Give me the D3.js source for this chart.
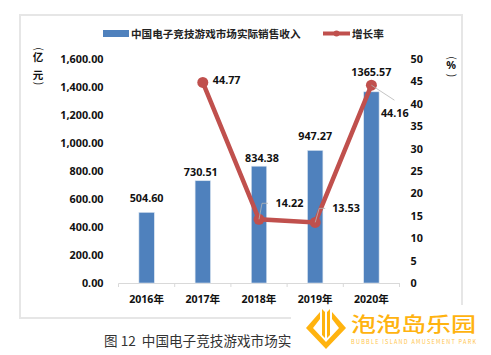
<!DOCTYPE html>
<html><head><meta charset="utf-8">
<script src="https://cdn.jsdelivr.net/npm/d3@7/dist/d3.min.js"></script>
<style>html,body{margin:0;padding:0;background:#fff}svg{display:block}
text{font-family:"Noto Sans CJK SC","Noto Sans",sans-serif}
.n{font-family:"Noto Sans","Noto Sans CJK SC",sans-serif;font-weight:700;font-size:10.8px;fill:#111}
</style></head><body><svg id="c" width="491" height="355"></svg>
<script>
const categories=["2016年","2017年","2018年","2019年","2020年"];
const revenue=[504.60,730.51,834.38,947.27,1365.57];
const growth=[null,44.77,14.22,13.53,44.16];
const leftTicks=[0,200,400,600,800,1000,1200,1400,1600];
const rightTicks=[0,5,10,15,20,25,30,35,40,45,50];
const barName="中国电子竞技游戏市场实际销售收入";
const lineName="增长率";
const caption="图 12  中国电子竞技游戏市场实";
const brand="泡泡岛乐园";
const brandEn="BUBBLE ISLAND AMUSEMENT PARK";
const svg=d3.select("#c");
svg.append("rect").attr("x",20).attr("y",15).attr("width",442).attr("height",303).attr("fill","#fff").attr("stroke","#e6e6e6").attr("stroke-width",2);
const x=d3.scaleBand().domain(categories).range([118.5,399.5]);
const y=d3.scaleLinear().domain([0,1600]).range([283,59]);
const y2=d3.scaleLinear().domain([0,50]).range([283,59]);
const cx=d=>x(d)+x.bandwidth()/2;
const ax=svg.append("g").attr("transform","translate(0,283)").call(d3.axisBottom(x).tickSize(0).tickPadding(12));
ax.select(".domain").attr("stroke","#d9d9d9").attr("d","M118.5,4V0.5H399.5V4");
categories.forEach((d,i)=>ax.append("line").attr("x1",x(d)+x.step()).attr("x2",x(d)+x.step()).attr("y1",0).attr("y2",4).attr("stroke","#d9d9d9"));
ax.selectAll("text").attr("class","n").style("font-size","10.6px").attr("fill","#111");
const fmt=d3.format(",.2f");
const la=svg.append("g").attr("transform","translate(103.5,0)").call(d3.axisLeft(y).tickValues(leftTicks).tickFormat(fmt).tickSize(0).tickPadding(0));
la.select(".domain").remove();
la.selectAll("text").attr("class","n");
const ra=svg.append("g").attr("transform","translate(410.5,0)").call(d3.axisRight(y2).tickValues(rightTicks).tickSize(0).tickPadding(0));
ra.select(".domain").remove();
ra.selectAll("text").attr("class","n");
svg.append("g").selectAll("rect").data(categories).join("rect")
 .attr("x",d=>cx(d)-7.7).attr("width",15.4).attr("y",(d,i)=>y(revenue[i])).attr("height",(d,i)=>283-y(revenue[i]))
 .attr("fill","#4f81bd").attr("stroke","#dbe5f1").attr("stroke-width",.6);
const pts=categories.map((d,i)=>({d,v:growth[i]})).filter(p=>p.v!=null);
const barOff=[[0,-14],[-2,-8],[3,-8],[0,-14],[0,-19]];
svg.append("g").selectAll("text").data(categories).join("text").attr("class","n").attr("text-anchor","middle")
 .attr("x",(d,i)=>cx(d)+barOff[i][0]).attr("y",(d,i)=>y(revenue[i])+barOff[i][1]+3.5).text((d,i)=>revenue[i].toFixed(2));
const line=d3.line().x(p=>cx(p.d)).y(p=>y2(p.v));
const lead=[[2,[[0,0],[3,-16],[9,-16]]],[3,[[0,0],[4,-14],[10,-14]]],[4,[[0,0],[23,15]]]];
svg.append("path").attr("d",line(pts)).attr("fill","none").attr("stroke","#c0504d").attr("stroke-width",4.5);
svg.append("g").selectAll("circle").data(pts).join("circle").attr("cx",p=>cx(p.d)).attr("cy",p=>y2(p.v)).attr("r",5.5).attr("fill","#c0504d");
lead.forEach(([i,ps])=>svg.append("path").attr("fill","none").attr("stroke","#b5b5b5").attr("stroke-width",.8)
 .attr("d",d3.line()(ps.map(q=>[cx(categories[i])+q[0],y2(growth[i])+q[1]]))));
const lineOff={1:[10,-2],2:[16.6,-16],3:[17,-13.4],4:[9.5,28]};
pts.forEach((p)=>{const i=categories.indexOf(p.d);
 svg.append("text").attr("class","n").attr("x",cx(p.d)+lineOff[i][0]).attr("y",y2(p.v)+lineOff[i][1]+3.5).text(p.v.toFixed(2));});
svg.append("rect").attr("x",103).attr("y",30).attr("width",26).attr("height",7).attr("fill","#4f81bd");
svg.append("text").attr("x",131).attr("y",37.5).attr("font-size","10.6px").attr("font-weight",700).attr("fill","#222").text(barName);
svg.append("line").attr("x1",323).attr("x2",350).attr("y1",33.5).attr("y2",33.5).attr("stroke","#c0504d").attr("stroke-width",4);
svg.append("circle").attr("cx",336.5).attr("cy",33.5).attr("r",3).attr("fill","#c0504d");
svg.append("text").attr("x",352).attr("y",37.5).attr("font-size","10.6px").attr("font-weight",700).attr("fill","#222").text(lineName);
const vt=(s,xx,yy)=>svg.append("text").attr("x",xx).attr("y",yy).attr("text-anchor","middle").attr("font-size","10.5px").attr("font-weight",700).attr("fill","#111").text(s);
const paren=(s,xx,yy)=>svg.append("text").attr("transform",`translate(${xx},${yy}) rotate(90)`).attr("text-anchor","middle").attr("dy","0.33em").attr("font-size","10.5px").attr("font-family","Noto Sans").attr("fill","#111").text(s);
paren("(",38,49);vt("亿",38,61);vt("元",38,78.5);paren(")",38,83.5);
paren("(",451,58);
svg.append("text").attr("x",451).attr("y",69).attr("text-anchor","middle").attr("class","n").text("%");
paren(")",451,75.5);
svg.append("text").attr("x",104).attr("y",346).attr("font-size","13.6px").attr("fill","#333").attr("xml:space","preserve").style("white-space","pre").text(caption);
svg.append("rect").attr("x",291).attr("y",305).attr("width",200).attr("height",50).attr("fill","#fff");
const g="#ffb30f";
svg.append("path").attr("fill",g).attr("d","M320,312L306,328L326,349L346,328L332,312L332,319L339,328L326,342L313,328L320,319Z");
svg.append("path").attr("fill",g).attr("d","M322,309L325,312L325,338L322,335Z M330,309L327,312L327,338L330,335Z");
svg.append("text").attr("transform","translate(351,332) scale(1.25,1)").attr("font-size","20px").attr("font-weight",500).attr("fill",g).text(brand);
svg.append("text").attr("x",351).attr("y",344).attr("font-size","5.5px").attr("textLength",125).attr("fill","#ffc64d").text(brandEn);
</script></body></html>
